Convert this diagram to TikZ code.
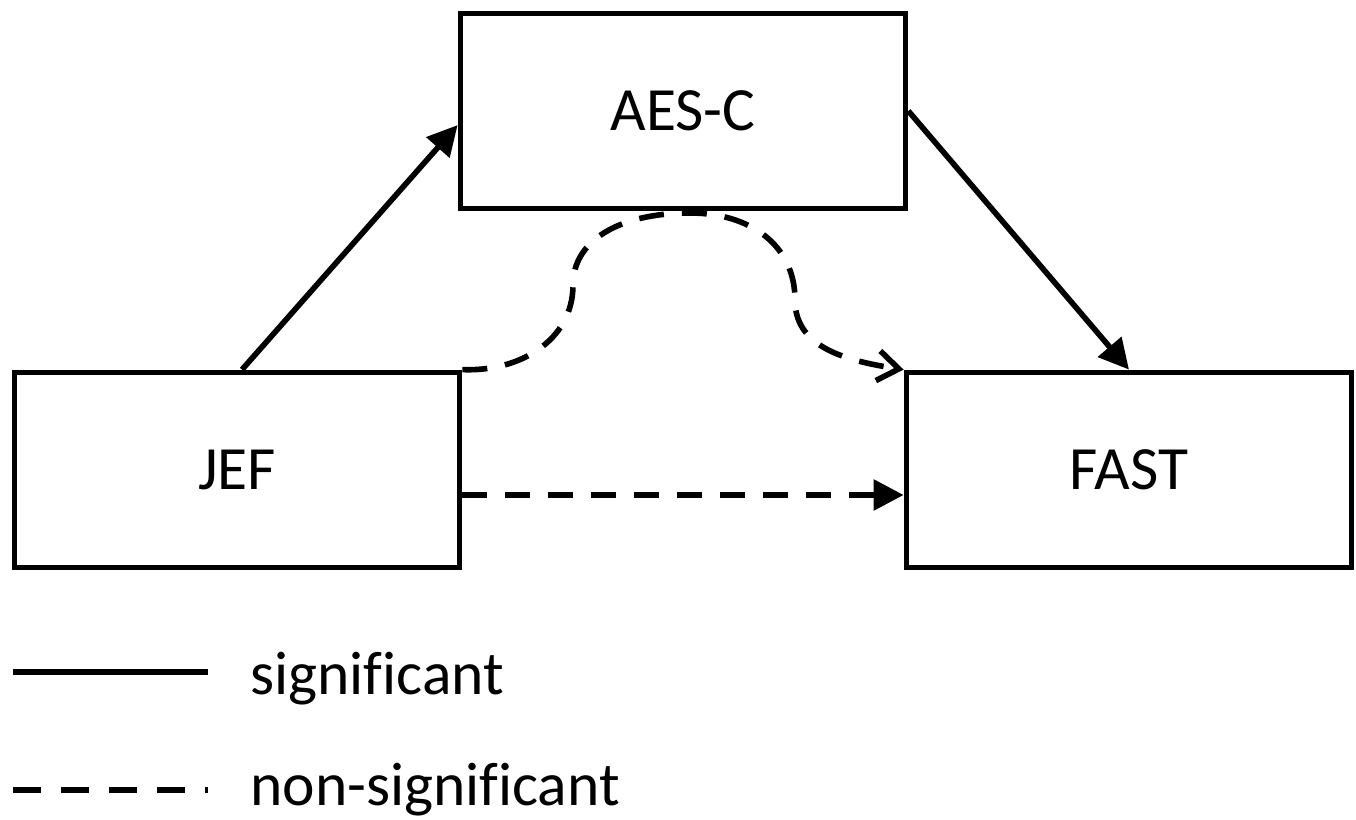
\documentclass[tikz,border=0pt]{standalone}
\usepackage{fontspec}
\setmainfont{Carlito}[Ligatures=NoCommon]
\usetikzlibrary{arrows.meta,calc}
\begin{document}
\begin{tikzpicture}[x=0.02cm,y=-0.02cm,
 box/.style={draw,line width=3.3pt,minimum width=8.9cm,minimum height=3.9cm,inner sep=0pt,font=\fontsize{35}{42}\selectfont},
 conn/.style={line width=3.2pt},
 dsh/.style={dash pattern=on 0.5cm off 0.36cm},
 tri/.style={-{Triangle[length=0.6cm,width=0.6cm]}},
 barb/.style={-{Straight Barb[length=0.42cm,width=0.6cm]}},
 lbl/.style={font=\fontsize{35}{42}\selectfont,anchor=base west,inner sep=0pt}]
\useasboundingbox (0,0) rectangle (1356,820);
\node[box] (AESC) at (683,111) {AES-C};
\node[box] (JEF) at (237,470) {JEF};
\node[box] (FAST) at (1129,470) {FAST};
% significant paths
\draw[conn,tri] ($(JEF.north)+(5,0)$) -- ($(AESC.north west)!0.57!(AESC.south west)$);
\draw[conn,tri] (AESC.east) -- (FAST.north);
% non-significant paths
\draw[conn,dsh,barb] (JEF.north east) .. controls (520,372) and (573,340) .. (573,285)
  .. controls (573,240) and (620,213) .. (690,213)
  .. controls (750,213) and (795,245) .. (795,300)
  .. controls (795,345) and (840,360) .. (FAST.north west);
\draw[conn,dsh,tri] ($(JEF.east)+(0,25)$) -- ($(FAST.west)+(0,25)$);
% legend
\coordinate (s1) at (13,672);
\coordinate (s2) at (208,672);
\draw[conn] (s1) -- (s2);
\node[lbl] (sig) at (250,694) {significant};
\coordinate (n1) at (13,790);
\coordinate (n2) at (208,790);
\draw[conn,dash pattern=on 0.56cm off 0.4cm] (n1) -- (n2);
\node[lbl] (nsig) at (250,805) {non-significant};
\end{tikzpicture}
\end{document}
